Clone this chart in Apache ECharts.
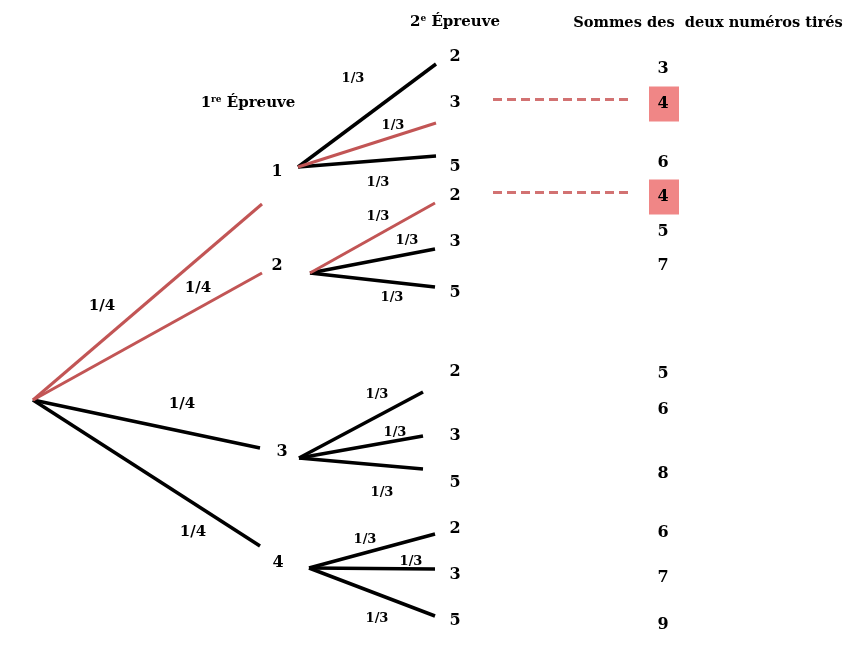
<!DOCTYPE html>
<html>
<head>
<meta charset="utf-8">
<script src="https://cdn.jsdelivr.net/npm/echarts@6/dist/echarts.min.js"></script>
<style>
  html, body { margin: 0; padding: 0; background: #fff; }
  #chart { width: 845px; height: 650px; }
</style>
</head>
<body>
<div id="chart"></div>
<script>
// data
const firstDraw = ['1', '2', '3', '4'];
const firstProb = ['1/4', '1/4', '1/4', '1/4'];
const secondDraw = ['2', '3', '5'];
const secondProb = ['1/3', '1/3', '1/3'];
const sums = [3, 4, 6, 4, 5, 7, 5, 6, 8, 6, 7, 9];
const sumTarget = 4; // highlighted outcome

// layout (axis units = pixels)
const root = [33, 400];
const firstEnds = [[262, 204], [262, 273], [260, 448], [260, 546]];
const firstLabelPos = [[277, 172], [277, 266], [282, 452], [278, 563]];
const firstProbPos = [[102, 306], [198, 288], [182, 404], [193, 532]];
const subOrigins = [[298, 167], [310, 273], [299, 458], [309, 568]];
const subEnds = [
  [[436, 64], [436, 123], [436, 156]],
  [[435, 203], [435, 249], [435, 287]],
  [[423, 392], [423, 436], [423, 469]],
  [[435, 534], [435, 569], [435, 616]]
];
const secondLabelY = [[57, 103, 167], [196, 242, 293], [372, 436, 483], [529, 575, 621]];
const secondProbPos = [
  [[353, 79], [393, 126], [378, 183]],
  [[378, 217], [407, 241], [392, 298]],
  [[377, 395], [395, 433], [382, 493]],
  [[365, 540], [411, 562], [377, 619]]
];
const sumY = [69, 104, 163, 197, 232, 266, 374, 410, 474, 533, 578, 625];

const RED = '#c25555';
const font = 'DejaVu Serif';

const blackEdges = [], redEdges = [], dashes = [], boxes = [], texts = [];
firstDraw.forEach((a, i) => {
  const hit = secondDraw.some(b => +a + +b === sumTarget);
  (hit ? redEdges : blackEdges).push({ coords: [root, firstEnds[i]] });
  texts.push({ value: firstLabelPos[i], name: a, size: 16 });
  texts.push({ value: firstProbPos[i], name: firstProb[i], size: 15 });
  secondDraw.forEach((b, j) => {
    const k = i * 3 + j;
    const isHit = +a + +b === sumTarget;
    (isHit ? redEdges : blackEdges).push({ coords: [subOrigins[i], subEnds[i][j]] });
    texts.push({ value: [455, secondLabelY[i][j]], name: b, size: 16 });
    texts.push({ value: secondProbPos[i][j], name: secondProb[j], size: 13 });
    if (sums[k] === sumTarget) {
      boxes.push([664, sumY[k]]);
      dashes.push({ coords: [[493, sumY[k] - 5], [630, sumY[k] - 5]] });
    }
    texts.push({ value: [663, sumY[k]], name: String(sums[k]), size: 16 });
  });
});

const chart = echarts.init(document.getElementById('chart'));
chart.setOption({
  animation: false,
  grid: { left: 0, right: 0, top: 0, bottom: 0 },
  xAxis: { type: 'value', min: 0, max: 845, show: false },
  yAxis: { type: 'value', min: 0, max: 650, inverse: true, show: false },
  series: [
    {
      type: 'lines', coordinateSystem: 'cartesian2d', data: blackEdges,
      lineStyle: { color: '#000', width: 3.5, opacity: 1 }, z: 2
    },
    {
      type: 'lines', coordinateSystem: 'cartesian2d', data: redEdges,
      lineStyle: { color: RED, width: 3, opacity: 1 }, z: 3
    },
    {
      type: 'lines', coordinateSystem: 'cartesian2d', data: dashes,
      lineStyle: { color: '#d27272', width: 3, type: [9, 5], opacity: 1 }
    },
    {
      type: 'scatter', data: boxes, symbol: 'rect', symbolSize: [30, 35],
      itemStyle: { color: '#f08686', opacity: 1 }, z: 1
    },
    {
      type: 'scatter', symbolSize: 0, z: 5, itemStyle: { opacity: 1 },
      data: texts.map(t => ({
        value: t.value, name: t.name,
        label: { fontSize: t.size }
      })),
      label: {
        show: true, position: 'inside', formatter: '{b}',
        fontFamily: font, fontWeight: 'bold', color: '#000', textBorderWidth: 0
      }
    },
    {
      type: 'scatter', symbolSize: 0, z: 5, itemStyle: { opacity: 1 },
      data: [
        { value: [455, 22], name: '2e' },
        { value: [248, 103], name: '1re' },
        { value: [708, 23], name: 'sum' }
      ],
      label: {
        show: true, position: 'inside', fontFamily: font, fontWeight: 'bold', color: '#000',
        fontSize: 15, textBorderWidth: 0,
        formatter: p => p.name === '2e' ? '{n|2}{s|e}{n| Épreuve}'
          : p.name === '1re' ? '{n|1}{s|re}{n| Épreuve}'
          : '{t|Sommes des  deux numéros tirés}',
        rich: {
          n: { fontFamily: font, fontWeight: 'bold', fontSize: 15, color: '#000' },
          t: { fontFamily: font, fontWeight: 'bold', fontSize: 14.6, color: '#000' },
          s: { fontFamily: font, fontWeight: 'bold', fontSize: 9, color: '#000', padding: [0, 0, 7, 0] }
        }
      }
    }
  ]
});
</script>
</body>
</html>
